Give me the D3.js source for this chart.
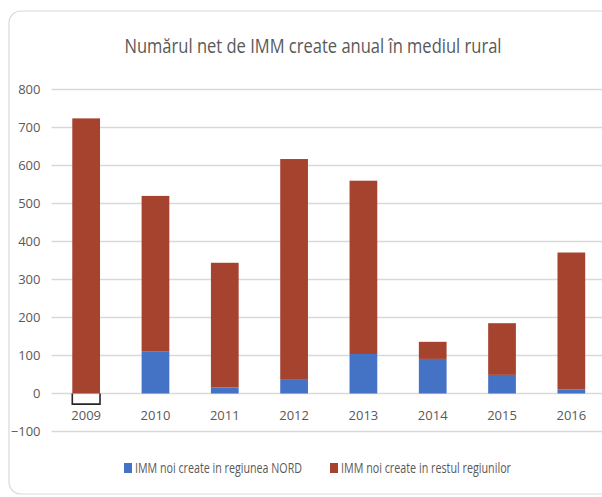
<!DOCTYPE html>
<html lang="ro">
<head>
<meta charset="UTF-8">
<title>IMM rural</title>
<style>
  body { margin: 0; background: #fff; }
  text { font-family: "Open Sans", "Liberation Sans", sans-serif; fill: #595959; }
</style>
</head>
<body>
<div id="chart"></div>
<script src="https://cdn.jsdelivr.net/npm/d3@7"></script>
<script>
const years = ['2009', '2010', '2011', '2012', '2013', '2014', '2015', '2016'];
const nord = [-28, 110, 16, 36, 104, 91, 49, 11];
const restul = [724, 410, 328, 581, 456, 45, 136, 360];
const yTicks = [-100, 0, 100, 200, 300, 400, 500, 600, 700, 800];
const seriesNames = ['IMM noi create in regiunea NORD', 'IMM noi create in restul regiunilor'];
const colors = ['#4472c4', '#a5432f'];

const width = 602, height = 497;
const plotLeft = 51.5, plotRight = 606, plotTop = 89.5, plotBottom = 431.5;

const svg = d3.select('#chart').append('svg')
  .attr('width', width)
  .attr('height', height);

// chart frame (cut off on the right, like the screenshot)
svg.append('rect')
  .attr('x', 9).attr('y', 11)
  .attr('width', 640).attr('height', 483)
  .attr('rx', 12)
  .attr('fill', '#fff')
  .attr('stroke', '#d9d9d9')
  .attr('stroke-width', 1.2);

svg.append('text')
  .attr('x', 313).attr('y', 53)
  .attr('text-anchor', 'middle')
  .attr('font-size', 20)
  .attr('textLength', 377)
  .attr('lengthAdjust', 'spacingAndGlyphs')
  .text('Numărul net de IMM create anual în mediul rural');

const x = d3.scaleBand().domain(years).range([plotLeft, plotRight]).paddingInner(0.6).paddingOuter(0.3);
const y = d3.scaleLinear().domain([-100, 800]).range([plotBottom, plotTop]);

// gridlines
svg.append('g')
  .selectAll('line')
  .data(yTicks)
  .join('line')
  .attr('x1', plotLeft).attr('x2', width)
  .attr('y1', d => y(d)).attr('y2', d => y(d))
  .attr('stroke', '#d9d9d9')
  .attr('stroke-width', 1.3);

const yAxis = svg.append('g')
  .attr('transform', `translate(${plotLeft},0)`)
  .call(d3.axisLeft(y).tickValues(yTicks).tickSize(0).tickPadding(11));
yAxis.select('.domain').remove();
yAxis.selectAll('text').attr('font-size', 13).attr('fill', '#595959')
  .style('font-family', '"Open Sans", sans-serif');

// stacked bars
const stackData = years.map((yr, i) => ({ year: yr, nord: nord[i], restul: restul[i] }));

const nordBars = stackData.filter(d => d.nord >= 0);
const nordNeg = stackData.filter(d => d.nord < 0);

svg.append('g')
  .selectAll('rect')
  .data(nordBars)
  .join('rect')
  .attr('x', d => x(d.year))
  .attr('width', x.bandwidth())
  .attr('y', d => y(d.nord))
  .attr('height', d => y(0) - y(d.nord))
  .attr('fill', colors[0]);

// negative value: open outline, as in the original
svg.append('g')
  .selectAll('path')
  .data(nordNeg)
  .join('path')
  .attr('d', d => `M${x(d.year)},${y(0)}V${y(d.nord)}H${x(d.year) + x.bandwidth()}V${y(0)}`)
  .attr('fill', 'none')
  .attr('stroke', '#262626')
  .attr('stroke-width', 1.6);

svg.append('g')
  .selectAll('rect')
  .data(stackData)
  .join('rect')
  .attr('x', d => x(d.year))
  .attr('width', x.bandwidth())
  .attr('y', d => y(Math.max(d.nord, 0) + d.restul))
  .attr('height', d => y(Math.max(d.nord, 0)) - y(Math.max(d.nord, 0) + d.restul))
  .attr('fill', colors[1]);

// x labels
const xAxis = svg.append('g')
  .attr('transform', `translate(0,${y(0)})`)
  .call(d3.axisBottom(x).tickSize(0).tickPadding(17));
xAxis.select('.domain').remove();
xAxis.selectAll('text').attr('font-size', 13).attr('fill', '#595959')
  .style('font-family', '"Open Sans", sans-serif');

// legend
const legendX = [124, 330];
const legend = svg.append('g')
  .selectAll('g')
  .data(seriesNames)
  .join('g')
  .attr('transform', (d, i) => `translate(${legendX[i]},468)`);
legend.append('rect')
  .attr('x', 0).attr('y', -5)
  .attr('width', 8).attr('height', 10)
  .attr('fill', (d, i) => colors[i]);
legend.append('text')
  .attr('x', 11).attr('y', 5)
  .attr('font-size', 14)
  .attr('textLength', (d, i) => i === 0 ? 167 : 170)
  .attr('lengthAdjust', 'spacingAndGlyphs')
  .text(d => d);
</script>
</body>
</html>
